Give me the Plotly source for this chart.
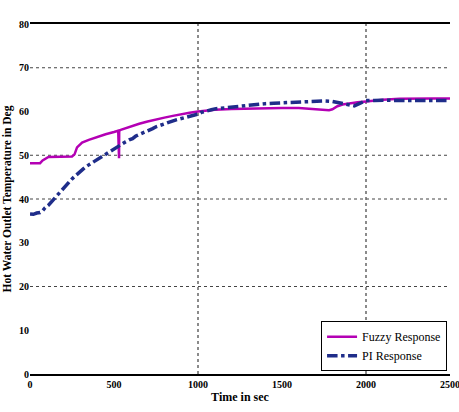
import plotly.graph_objects as go

fuzzy_t = [0, 60, 75, 110, 250, 265, 280, 300, 310, 350, 400, 450, 500, 525, 530, 531, 540, 600, 650, 700,
           750, 800, 850, 900, 950, 1000, 1050, 1100, 1200, 1300, 1400, 1500, 1600, 1700, 1750, 1780,
           1800, 1830, 1860, 1900, 1950, 2000, 2050, 2100, 2200, 2300, 2400, 2500]
fuzzy_v = [48.2, 48.2, 48.8, 49.6, 49.7, 50.2, 51.8, 52.5, 52.9, 53.5, 54.2, 54.8, 55.3, 55.6, 49.3, 55.6,
           55.8, 56.6, 57.2, 57.7, 58.2, 58.6, 59.0, 59.4, 59.7, 60.0, 60.2, 60.4, 60.6, 60.7, 60.8, 60.8,
           60.8, 60.6, 60.4, 60.3, 60.5, 61.2, 61.6, 61.9, 62.1, 62.3, 62.5, 62.7, 62.9, 63.0, 63.0, 63.0]

pi_t = [0, 20, 40, 60, 75, 90, 110, 130, 150, 170, 190, 210, 230, 250, 270, 290, 310, 330, 350, 370,
        390, 410, 430, 450, 470, 490, 510, 530, 550, 570, 590, 610, 630, 650, 670, 690, 710, 730, 750,
        770, 790, 810, 830, 850, 870, 890, 910, 930, 950, 970, 990, 1000, 1020, 1050, 1080, 1100, 1150,
        1200, 1250, 1300, 1350, 1400, 1450, 1500, 1550, 1600, 1650, 1700, 1750, 1800, 1850, 1900, 1930,
        1960, 2000, 2050, 2100, 2200, 2300, 2400, 2500]
pi_v = [36.6, 36.5, 36.8, 36.9, 37.3, 38.0, 38.6, 39.5, 40.4, 41.2, 42.0, 42.8, 43.7, 44.6, 45.3, 46.0,
        46.7, 47.3, 47.8, 48.3, 48.8, 49.2, 49.6, 50.1, 50.6, 51.2, 51.7, 52.2, 52.6, 53.1, 53.5, 53.8,
        54.4, 54.7, 55.1, 55.4, 55.8, 56.1, 56.5, 56.8, 57.1, 57.3, 57.6, 57.9, 58.1, 58.3, 58.5, 58.7,
        58.8, 59.0, 59.1, 59.4, 59.8, 60.0, 60.4, 60.6, 60.8, 61.0, 61.3, 61.4, 61.6, 61.8, 61.9, 62.0,
        62.1, 62.2, 62.3, 62.4, 62.4, 62.3, 61.9, 61.6, 61.3, 61.8, 62.5, 62.5, 62.6, 62.5, 62.6, 62.5, 62.5]

x_ticks = [0, 500, 1000, 1500, 2000, 2500]
y_ticks = [0, 10, 20, 30, 40, 50, 60, 70, 80]
h_grid = [20, 40, 50, 70]
v_grid = [1000, 2000]

serif = "Liberation Serif"

fig = go.Figure()
fig.add_trace(go.Scatter(x=fuzzy_t, y=fuzzy_v, mode="lines", name="Fuzzy Response",
                         line=dict(color="#b400b4", width=2.5)))
fig.add_trace(go.Scatter(x=pi_t, y=pi_v, mode="lines", name="PI Response",
                         line=dict(color="#1f2d8a", width=3.5, dash="dashdot")))

for g in h_grid:
    fig.add_shape(type="line", xref="x", yref="y", x0=0, x1=2500, y0=g, y1=g,
                  line=dict(color="#444444", width=1, dash="dot"), layer="below")
for g in v_grid:
    fig.add_shape(type="line", xref="x", yref="y", x0=g, x1=g, y0=0, y1=80,
                  line=dict(color="#666666", width=1.5, dash="dot"), layer="below")

fig.update_layout(
    width=459, height=412,
    margin=dict(l=30, r=9, t=24, b=38),
    paper_bgcolor="white", plot_bgcolor="white",
    font=dict(family=serif, color="black", size=10),
    showlegend=True,
    legend=dict(x=0.993, y=0.008, xanchor="right", yanchor="bottom",
                bgcolor="white", bordercolor="black", borderwidth=1,
                font=dict(family=serif, size=12, color="black"),
                tracegroupgap=0, itemwidth=30),
    xaxis=dict(range=[0, 2500], tickvals=x_ticks, showgrid=False, zeroline=False,
               showline=True, mirror=True, linecolor="black", linewidth=1.5,
               ticks="", ticklabeloverflow="allow", automargin=False,
               tickfont=dict(family=serif, size=10, weight="bold"),
               title=dict(text="Time in sec", font=dict(family=serif, size=12, weight="bold"),
                          standoff=4)),
    yaxis=dict(range=[0, 80], tickvals=y_ticks, showgrid=False, zeroline=False,
               showline=False, ticks="", automargin=False,
               tickfont=dict(family=serif, size=10, weight="bold"),
               title=dict(text="Hot Water Outlet Temperature in Deg",
                          font=dict(family=serif, size=11.5, weight="bold"), standoff=4)),
)

fig.write_html("out.html")
